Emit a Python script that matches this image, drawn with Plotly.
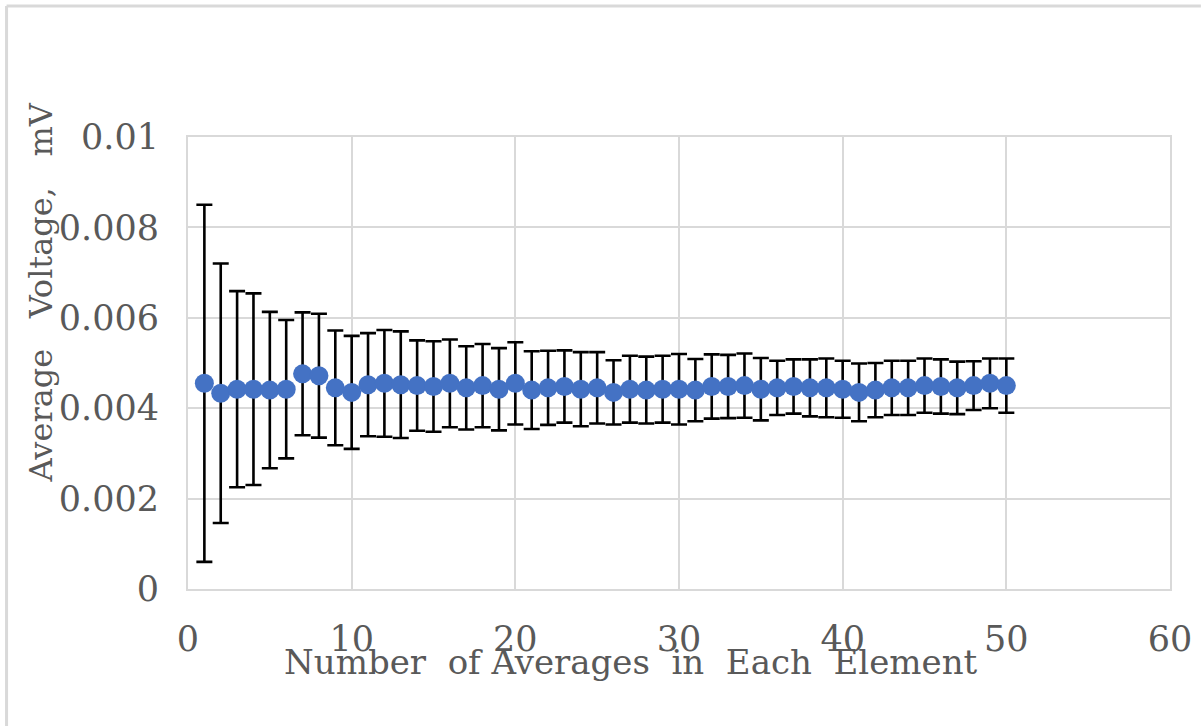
import plotly.graph_objects as go

n_averages = list(range(1, 51))
mean_voltage = [4.55, 4.33, 4.42, 4.42, 4.40, 4.42, 4.76, 4.72, 4.45, 4.35,
                4.52, 4.55, 4.52, 4.50, 4.48, 4.55, 4.45, 4.50, 4.42, 4.55,
                4.40, 4.45, 4.48, 4.42, 4.45, 4.35, 4.42, 4.40, 4.42, 4.42,
                4.40, 4.48, 4.48, 4.50, 4.42, 4.45, 4.48, 4.45, 4.45, 4.42,
                4.35, 4.40, 4.45, 4.45, 4.50, 4.48, 4.45, 4.50, 4.55, 4.50]
error_voltage = [3.95, 2.87, 2.17, 2.12, 1.73, 1.53, 1.36, 1.37, 1.27, 1.25,
                 1.14, 1.18, 1.18, 1.00, 1.00, 0.97, 0.92, 0.92, 0.91, 0.91,
                 0.86, 0.82, 0.80, 0.82, 0.79, 0.71, 0.74, 0.74, 0.74, 0.78,
                 0.69, 0.71, 0.70, 0.71, 0.69, 0.60, 0.60, 0.63, 0.65, 0.63,
                 0.64, 0.60, 0.60, 0.60, 0.60, 0.60, 0.58, 0.54, 0.55, 0.60]
mean_voltage = [v / 1000 for v in mean_voltage]
error_voltage = [v / 1000 for v in error_voltage]

y_ticks = [0, 0.002, 0.004, 0.006, 0.008, 0.01]
y_tick_labels = ["0", "0.002", "0.004", "0.006", "0.008", "0.01"]
x_ticks = [0, 10, 20, 30, 40, 50, 60]

FONT = "DejaVu Serif"
GRAY = "#595959"
GRID = "#d9d9d9"
FS_TICK = 35
FS_XT = 34
FS_YT = 32

fig = go.Figure()
fig.add_trace(go.Scatter(
    x=n_averages, y=mean_voltage, mode="markers",
    marker=dict(color="#4472C4", size=19, line=dict(width=0)),
    error_y=dict(type="data", array=error_voltage, visible=True,
                 color="black", thickness=2.6, width=8),
    showlegend=False,
))

W, H = 1204, 726
L, R, T, B = 188, 31, 137, 137

fig.update_layout(
    width=W, height=H,
    margin=dict(l=L, r=R, t=T, b=B),
    paper_bgcolor="white", plot_bgcolor="white",
    font=dict(family=FONT, color=GRAY, size=FS_TICK),
    xaxis=dict(range=[0, 60], tickvals=x_ticks, showgrid=True,
               gridcolor=GRID, gridwidth=2, zeroline=False,
               showline=True, linecolor=GRID, linewidth=2, mirror=True,
               ticks="", ticklabelstandoff=18,
               tickfont=dict(family=FONT, color=GRAY, size=FS_TICK)),
    yaxis=dict(range=[0, 0.01], tickvals=y_ticks, ticktext=y_tick_labels,
               showgrid=True, gridcolor=GRID, gridwidth=2, zeroline=False,
               showline=True, linecolor=GRID, linewidth=2, mirror=True,
               ticks="", ticklabelstandoff=20,
               tickfont=dict(family=FONT, color=GRAY, size=FS_TICK)),
)

pw = W - L - R
ph = H - T - B


def px_x(p):
    return (p - L) / pw


def px_y(p):
    return (H - B - p) / ph


fig.add_annotation(
    text="Number  of Averages  in  Each  Element",
    x=px_x(632), y=px_y(662), xref="paper", yref="paper",
    showarrow=False, xanchor="center", yanchor="middle",
    font=dict(family=FONT, color=GRAY, size=FS_XT),
)
fig.add_annotation(
    text="Average   Voltage,   mV", textangle=-90,
    x=px_x(41), y=px_y(292), xref="paper", yref="paper",
    showarrow=False, xanchor="center", yanchor="middle",
    font=dict(family=FONT, color=GRAY, size=FS_YT),
)

# outer chart border (top and left edges visible)
fig.add_shape(type="line", xref="paper", yref="paper",
              x0=px_x(6), x1=px_x(1204), y0=px_y(6), y1=px_y(6),
              line=dict(color="#d9d9d9", width=3))
fig.add_shape(type="line", xref="paper", yref="paper",
              x0=px_x(6), x1=px_x(6), y0=px_y(6), y1=px_y(726),
              line=dict(color="#d9d9d9", width=3))

fig.write_html("out.html")
